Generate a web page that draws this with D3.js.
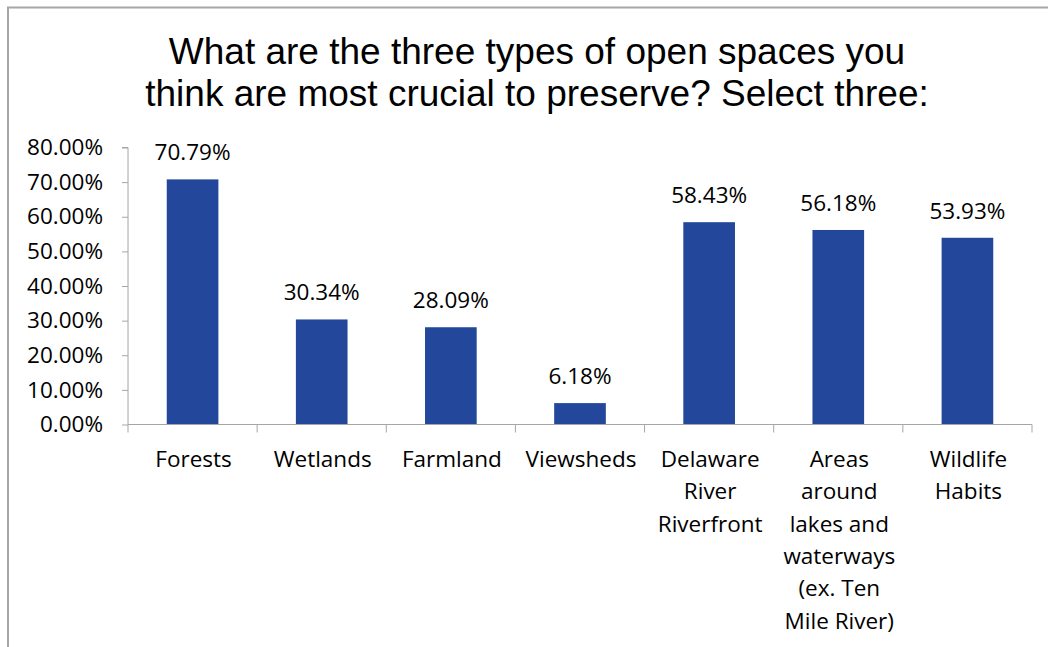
<!DOCTYPE html>
<html><head><meta charset="utf-8">
<script src="https://cdn.jsdelivr.net/npm/d3@7"></script>
<style>
html,body{margin:0;padding:0;background:#fff;}
svg{display:block;}
</style></head>
<body>
<svg id="c" width="1048" height="647"></svg>
<script>
const titleLines = ["What are the three types of open spaces you", "think are most crucial to preserve? Select three:"];
const categories = ["Forests", "Wetlands", "Farmland", "Viewsheds", "Delaware River Riverfront", "Areas around lakes and waterways (ex. Ten Mile River)", "Wildlife Habits"];
const labelLines = [["Forests"], ["Wetlands"], ["Farmland"], ["Viewsheds"], ["Delaware", "River", "Riverfront"], ["Areas", "around", "lakes and", "waterways", "(ex. Ten", "Mile River)"], ["Wildlife", "Habits"]];
const values = [70.79, 30.34, 28.09, 6.18, 58.43, 56.18, 53.93];
const yTicks = [0, 10, 20, 30, 40, 50, 60, 70, 80];

const svg = d3.select("#c");
const axisFont = "'Open Sans', Lato, sans-serif";
const fs = 22.5;
const pLeft = 128, pRight = 1032, pTop = 147.5, pBottom = 424.5;

// border
svg.append("path").attr("d", "M8,660 L8,7.5 L1060,7.5").attr("fill", "none").attr("stroke", "#a6a6a6").attr("stroke-width", 2);

// title
svg.append("g").selectAll("text").data(titleLines).join("text")
  .attr("x", 537).attr("y", (d, i) => 64 + i * 42)
  .attr("text-anchor", "middle")
  .attr("font-family", "'Liberation Sans', Arial, sans-serif")
  .attr("font-size", 37).attr("fill", "#000").text(d => d);

const x = d3.scaleBand().domain(categories).range([pLeft, pRight]).paddingInner(0.6).paddingOuter(0.3);
const xb = d3.scaleBand().domain(categories).range([pLeft, pRight]).padding(0);
const y = d3.scaleLinear().domain([0, 80]).range([pBottom, pTop]);

// y axis
const ya = svg.append("g").attr("transform", `translate(${pLeft},0)`)
  .call(d3.axisLeft(y).tickValues(yTicks).tickFormat(d => d.toFixed(2) + "%").tickSize(6).tickPadding(19));
ya.select(".domain").attr("stroke", "#a6a6a6").attr("d", `M-6,${pTop}H0V${pBottom}`);
ya.selectAll(".tick line").attr("stroke", "#a6a6a6");
ya.selectAll("text").attr("font-family", axisFont).attr("font-size", fs).attr("fill", "#000");

// bars
svg.append("g").selectAll("rect").data(values).join("rect")
  .attr("x", (d, i) => x(categories[i])).attr("width", x.bandwidth())
  .attr("y", d => y(d)).attr("height", d => y(0) - y(d))
  .attr("fill", "#23479a");

// x axis
const xg = svg.append("g");
xg.append("line").attr("x1", pLeft).attr("x2", pRight).attr("y1", pBottom).attr("y2", pBottom).attr("stroke", "#a6a6a6");
const bounds = categories.map(c => xb(c)).concat([pRight]);
xg.selectAll("line.t").data(bounds).join("line").attr("class", "t")
  .attr("x1", d => d).attr("x2", d => d).attr("y1", pBottom).attr("y2", pBottom + 8).attr("stroke", "#a6a6a6");

// category labels
const lg = svg.append("g").attr("font-family", axisFont).attr("font-size", fs).attr("fill", "#000").attr("text-anchor", "middle");
categories.forEach((c, i) => {
  lg.selectAll(null).data(labelLines[i]).join("text")
    .attr("x", xb(c) + xb.bandwidth() / 2 + 1).attr("y", (d, j) => 467 + j * 32.3).text(d => d);
});

// data labels
svg.append("g").selectAll("text").data(values).join("text")
  .attr("x", (d, i) => x(categories[i]) + x.bandwidth() / 2)
  .attr("y", d => y(d) - 19)
  .attr("text-anchor", "middle").attr("font-family", axisFont).attr("font-size", fs).attr("fill", "#000")
  .text(d => d.toFixed(2) + "%");
</script>
</body></html>
